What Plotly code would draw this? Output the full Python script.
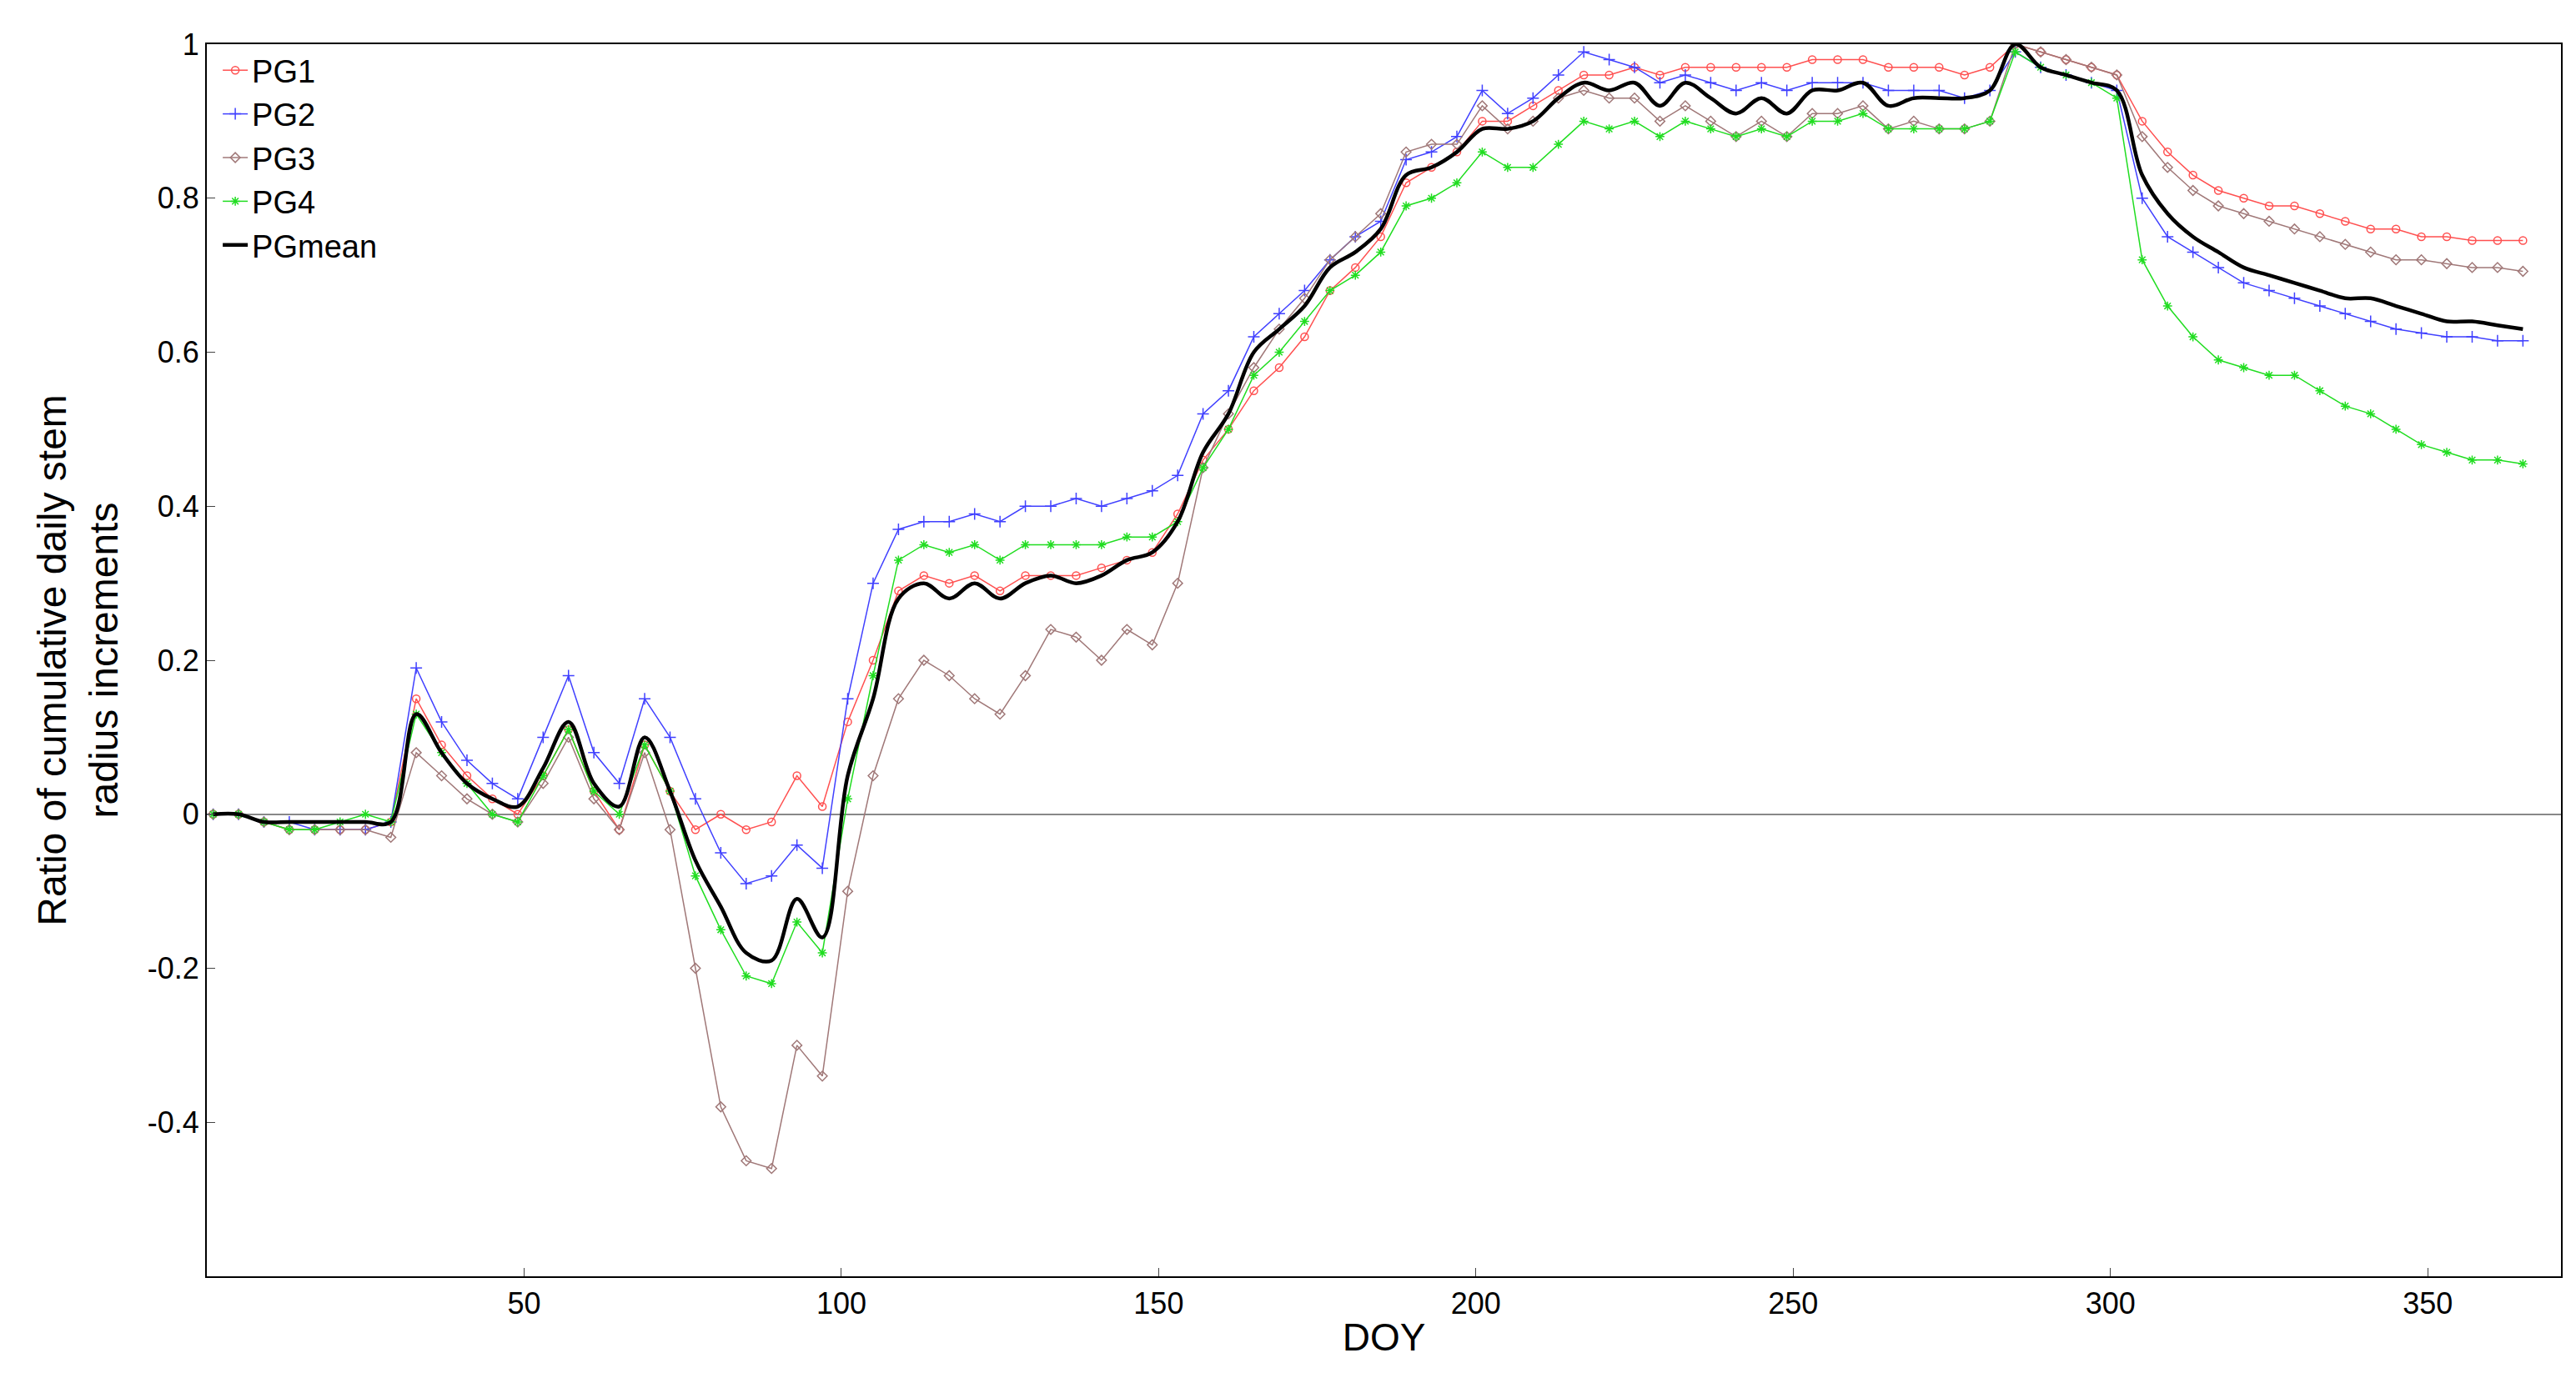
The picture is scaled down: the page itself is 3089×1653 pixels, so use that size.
import plotly.graph_objects as go

doy = list(range(1, 366, 4))

pgmean = [0,0,-0.01,-0.01,-0.01,-0.01,-0.01,-0.01,0.13,0.08,0.04,0.02,0.01,0.06,0.12,0.04,0.01,0.10,0.03,-0.06,
          -0.12,-0.18,-0.19,-0.11,-0.16,0.05,0.15,0.28,0.30,0.28,0.30,0.28,0.30,0.31,0.30,0.31,0.33,0.34,0.38,0.47,
          0.52,0.60,0.63,0.66,0.71,0.73,0.76,0.83,0.84,0.86,0.89,0.89,0.90,0.93,0.95,0.94,0.95,0.92,0.95,0.93,
          0.91,0.93,0.91,0.94,0.94,0.95,0.92,0.93,0.93,0.93,0.94,1.0,0.97,0.96,0.95,0.94,0.83,0.78,0.75,0.73,
          0.71,0.70,0.69,0.68,0.67,0.67,0.66,0.65,0.64,0.64,0.635,0.63]
pg1 = [0,0,-0.01,-0.02,-0.02,-0.02,-0.02,-0.01,0.15,0.09,0.05,0.02,0.0,0.05,0.11,0.03,-0.02,0.09,0.03,-0.02,
       0.0,-0.02,-0.01,0.05,0.01,0.12,0.20,0.29,0.31,0.30,0.31,0.29,0.31,0.31,0.31,0.32,0.33,0.34,0.39,0.46,
       0.50,0.55,0.58,0.62,0.68,0.71,0.75,0.82,0.84,0.86,0.90,0.90,0.92,0.94,0.96,0.96,0.97,0.96,0.97,0.97,
       0.97,0.97,0.97,0.98,0.98,0.98,0.97,0.97,0.97,0.96,0.97,1.0,0.99,0.98,0.97,0.96,0.90,0.86,0.83,0.81,
       0.80,0.79,0.79,0.78,0.77,0.76,0.76,0.75,0.75,0.745,0.745,0.745]
pg2 = [0,0,-0.01,-0.01,-0.02,-0.02,-0.02,-0.01,0.19,0.12,0.07,0.04,0.02,0.10,0.18,0.08,0.04,0.15,0.10,0.02,
       -0.05,-0.09,-0.08,-0.04,-0.07,0.15,0.30,0.37,0.38,0.38,0.39,0.38,0.40,0.40,0.41,0.40,0.41,0.42,0.44,0.52,
       0.55,0.62,0.65,0.68,0.72,0.75,0.77,0.85,0.86,0.88,0.94,0.91,0.93,0.96,0.99,0.98,0.97,0.95,0.96,0.95,
       0.94,0.95,0.94,0.95,0.95,0.95,0.94,0.94,0.94,0.93,0.94,0.99,0.97,0.96,0.95,0.94,0.80,0.75,0.73,0.71,
       0.69,0.68,0.67,0.66,0.65,0.64,0.63,0.625,0.62,0.62,0.615,0.615]
pg3 = [0,0,-0.01,-0.02,-0.02,-0.02,-0.02,-0.03,0.08,0.05,0.02,0.0,-0.01,0.04,0.10,0.02,-0.02,0.08,-0.02,-0.20,
       -0.38,-0.45,-0.46,-0.30,-0.34,-0.10,0.05,0.15,0.20,0.18,0.15,0.13,0.18,0.24,0.23,0.20,0.24,0.22,0.30,0.45,
       0.52,0.58,0.63,0.67,0.72,0.75,0.78,0.86,0.87,0.87,0.92,0.89,0.90,0.93,0.94,0.93,0.93,0.90,0.92,0.90,
       0.88,0.90,0.88,0.91,0.91,0.92,0.89,0.90,0.89,0.89,0.90,1.0,0.99,0.98,0.97,0.96,0.88,0.84,0.81,0.79,
       0.78,0.77,0.76,0.75,0.74,0.73,0.72,0.72,0.715,0.71,0.71,0.705]
pg4 = [0,0,-0.01,-0.02,-0.02,-0.01,0.0,-0.01,0.13,0.08,0.04,0.0,-0.01,0.05,0.11,0.03,0.0,0.09,0.03,-0.08,
       -0.15,-0.21,-0.22,-0.14,-0.18,0.02,0.18,0.33,0.35,0.34,0.35,0.33,0.35,0.35,0.35,0.35,0.36,0.36,0.38,0.45,
       0.50,0.57,0.60,0.64,0.68,0.70,0.73,0.79,0.80,0.82,0.86,0.84,0.84,0.87,0.90,0.89,0.90,0.88,0.90,0.89,
       0.88,0.89,0.88,0.90,0.90,0.91,0.89,0.89,0.89,0.89,0.90,0.99,0.97,0.96,0.95,0.93,0.72,0.66,0.62,0.59,
       0.58,0.57,0.57,0.55,0.53,0.52,0.50,0.48,0.47,0.46,0.46,0.455]

fig = go.Figure()
styles = [("PG1", pg1, "#ff5050", "circle-open", 9),
          ("PG2", pg2, "#4040ff", "cross-thin-open", 10),
          ("PG3", pg3, "#a07878", "diamond-open", 9),
          ("PG4", pg4, "#20dd20", "asterisk-open", 9)]
for name, ys, c, sym, sz in styles:
    fig.add_trace(go.Scatter(x=doy, y=ys, name=name, mode="lines+markers",
                             line=dict(color=c, width=1.5),
                             marker=dict(symbol=sym, size=sz, color=c, line=dict(color=c, width=1.5))))
fig.add_trace(go.Scatter(x=doy, y=pgmean, name="PGmean", mode="lines",
                         line=dict(color="black", width=4.5, shape="spline")))

fig.update_layout(
    width=3089, height=1653, plot_bgcolor="white", paper_bgcolor="white",
    margin=dict(l=240, r=26, t=45, b=130),
    font=dict(family="Liberation Sans, Arial", size=36, color="black"),
    legend=dict(x=0.005, y=1.0, xanchor="left", yanchor="top", bgcolor="rgba(0,0,0,0)",
                font=dict(size=38)),
    xaxis=dict(range=[0, 371], tickvals=[50, 100, 150, 200, 250, 300, 350], showgrid=False,
               zeroline=False, showline=True, mirror=True, linecolor="black", linewidth=2,
               ticks="inside", ticklen=10,
               title=dict(text="DOY", font=dict(size=46), standoff=5)),
    yaxis=dict(range=[-0.6, 1], tickvals=[-0.4, -0.2, 0, 0.2, 0.4, 0.6, 0.8, 1],
               ticktext=["-0.4", "-0.2", "0", "0.2", "0.4", "0.6", "0.8", "1"],
               showgrid=False, zeroline=True, zerolinecolor="#888888", zerolinewidth=2,
               showline=True, mirror=True, linecolor="black", linewidth=2, ticks="inside", ticklen=10,
               title=dict(text="Ratio of cumulative daily stem<br>radius increments", font=dict(size=48),
                          standoff=20)),
)
fig.write_html("out.html")
